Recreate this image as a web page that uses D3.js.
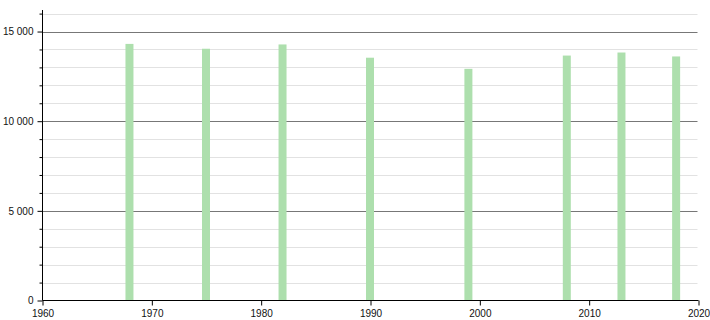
<!DOCTYPE html>
<html>
<head>
<meta charset="utf-8">
<script src="https://cdn.jsdelivr.net/npm/d3@7"></script>
<style>
body { margin: 0; background: #fff; }
svg { display: block; }
text { font-family: "Liberation Sans", Arial, sans-serif; font-size: 10px; fill: #111; }
</style>
</head>
<body>
<svg id="chart" width="710" height="320"></svg>
<script>
const years = [1968, 1975, 1982, 1990, 1999, 2008, 2013, 2018];
const population = [14310, 14040, 14280, 13540, 12920, 13660, 13830, 13610];
const xTicks = [1960, 1970, 1980, 1990, 2000, 2010, 2020];
const yMajorTicks = [0, 5000, 10000, 15000];
const yMinorTicks = [1000, 2000, 3000, 4000, 6000, 7000, 8000, 9000, 11000, 12000, 13000, 14000, 16000];

const svg = d3.select("#chart");
const x = d3.scaleLinear().domain([1960, 2020]).range([42.5, 698.5]);
const y = d3.scaleLinear().domain([0, 16000]).range([300.5, 13.6]);

const fmt = v => d3.format(",")(v).replace(/,/g, "\u00a0");
const fontFam = "'Liberation Sans', Arial, sans-serif";

// minor gridlines
svg.append("g").selectAll("line").data(yMinorTicks).join("line")
  .attr("x1", x(1960)).attr("x2", x(2020) - 1)
  .attr("y1", d => Math.round(y(d)) + 0.5).attr("y2", d => Math.round(y(d)) + 0.5)
  .attr("stroke", "#e2e2e2").attr("stroke-width", 1);
// major gridlines
svg.append("g").selectAll("line").data(yMajorTicks.filter(d => d > 0)).join("line")
  .attr("x1", x(1960)).attr("x2", x(2020) - 1)
  .attr("y1", d => Math.round(y(d)) + 0.5).attr("y2", d => Math.round(y(d)) + 0.5)
  .attr("stroke", "#777").attr("stroke-width", 1);

// bars
const bw = 8;
svg.append("g").selectAll("rect").data(years).join("rect")
  .attr("x", d => x(d) - bw / 2 - 0.5)
  .attr("width", bw)
  .attr("y", (d, i) => y(population[i]))
  .attr("height", (d, i) => y(0) - y(population[i]))
  .attr("fill", "#addfad");

// y axis
const yAxisMajor = d3.axisLeft(y).tickValues(yMajorTicks).tickSize(5).tickPadding(4).tickFormat(fmt);
const gy = svg.append("g").attr("transform", `translate(${x(1960)},0)`).call(yAxisMajor);
gy.select(".domain").remove();
gy.selectAll(".tick line").attr("stroke", "#000");
gy.selectAll(".tick text").attr("fill", "#111").style("font-size", "10px").style("font-family", fontFam);
const gyMinor = svg.append("g").attr("transform", `translate(${x(1960)},0)`)
  .call(d3.axisLeft(y).tickValues(yMinorTicks).tickSize(3).tickFormat(""));
gyMinor.select(".domain").remove();
gyMinor.selectAll(".tick line").attr("stroke", "#000");
svg.append("line").attr("x1", x(1960)).attr("x2", x(1960)).attr("y1", 10).attr("y2", y(0))
  .attr("stroke", "#000");

// x axis
const gx = svg.append("g").attr("transform", `translate(0,${y(0)})`)
  .call(d3.axisBottom(x).tickValues(xTicks).tickSize(5).tickPadding(4).tickFormat(d3.format("d")));
gx.select(".domain").attr("stroke", "#000").attr("d", `M${x(1960)},0H${x(2020)}`);
gx.selectAll(".tick line").attr("stroke", "#000");
gx.selectAll(".tick text").attr("fill", "#111").style("font-size", "10px").style("font-family", fontFam);
</script>
</body>
</html>
